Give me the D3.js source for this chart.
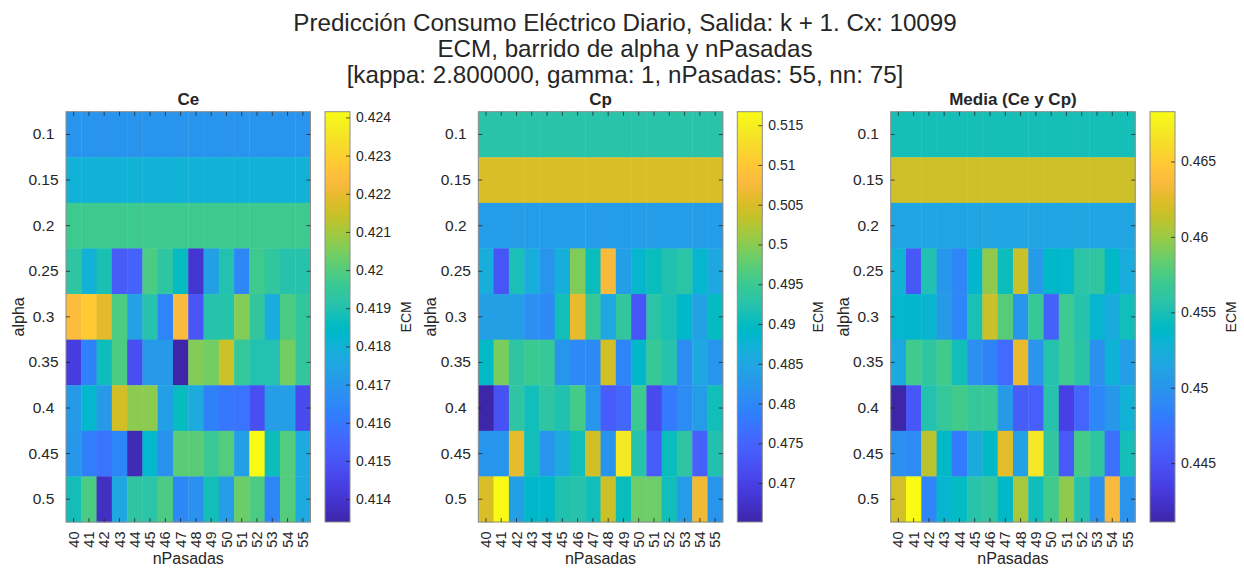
<!DOCTYPE html>
<html>
<head>
<meta charset="utf-8">
<script src="https://cdn.jsdelivr.net/npm/d3@7"></script>
<style>
  body { margin: 0; background: #fff; }
  text { font-family: "Liberation Sans", Arial, Helvetica, sans-serif; fill: #262626; }
</style>
</head>
<body>
<svg id="chart" width="1244" height="570"></svg>
<script>
// Sweep axes
const nPasadas = [40, 41, 42, 43, 44, 45, 46, 47, 48, 49, 50, 51, 52, 53, 54, 55];
const alphaLabels = ["0.1", "0.15", "0.2", "0.25", "0.3", "0.35", "0.4", "0.45", "0.5"];

// ECM per alpha (rows) and nPasadas (columns)
const ecmCe = [
  [0.4169, 0.4169, 0.4169, 0.4169, 0.4169, 0.4169, 0.4169, 0.4169, 0.4169, 0.4169, 0.4169, 0.4169, 0.4169, 0.4169, 0.4169, 0.4169],
  [0.4180, 0.4180, 0.4180, 0.4180, 0.4180, 0.4180, 0.4180, 0.4180, 0.4180, 0.4180, 0.4180, 0.4180, 0.4180, 0.4180, 0.4180, 0.4180],
  [0.4197, 0.4197, 0.4197, 0.4197, 0.4197, 0.4197, 0.4197, 0.4197, 0.4197, 0.4197, 0.4197, 0.4197, 0.4197, 0.4197, 0.4197, 0.4197],
  [0.4193, 0.4180, 0.4189, 0.4152, 0.4154, 0.4199, 0.4193, 0.4186, 0.4140, 0.4173, 0.4190, 0.4165, 0.4197, 0.4194, 0.4191, 0.4191],
  [0.4224, 0.4228, 0.4219, 0.4199, 0.4174, 0.4191, 0.4164, 0.4223, 0.4150, 0.4191, 0.4191, 0.4206, 0.4194, 0.4178, 0.4199, 0.4194],
  [0.4143, 0.4163, 0.4187, 0.4199, 0.4148, 0.4171, 0.4171, 0.4134, 0.4206, 0.4204, 0.4215, 0.4195, 0.4190, 0.4190, 0.4204, 0.4194],
  [0.4171, 0.4183, 0.4171, 0.4216, 0.4207, 0.4207, 0.4173, 0.4186, 0.4177, 0.4163, 0.4160, 0.4159, 0.4148, 0.4172, 0.4172, 0.4147],
  [0.4170, 0.4162, 0.4159, 0.4164, 0.4136, 0.4183, 0.4168, 0.4201, 0.4201, 0.4196, 0.4200, 0.4173, 0.42415, 0.4187, 0.4200, 0.4177],
  [0.4188, 0.4199, 0.4138, 0.4176, 0.4193, 0.4192, 0.4199, 0.4165, 0.4168, 0.4188, 0.4172, 0.4203, 0.4199, 0.4164, 0.4200, 0.4177]
];

const ecmCp = [
  [0.4927, 0.4927, 0.4927, 0.4927, 0.4927, 0.4927, 0.4927, 0.4927, 0.4927, 0.4927, 0.4927, 0.4927, 0.4927, 0.4927, 0.4927, 0.4927],
  [0.5050, 0.5050, 0.5050, 0.5050, 0.5050, 0.5050, 0.5050, 0.5050, 0.5050, 0.5050, 0.5050, 0.5050, 0.5050, 0.5050, 0.5050, 0.5050],
  [0.4832, 0.4832, 0.4832, 0.4832, 0.4832, 0.4832, 0.4832, 0.4832, 0.4832, 0.4832, 0.4832, 0.4832, 0.4832, 0.4832, 0.4832, 0.4832],
  [0.4863, 0.4728, 0.4914, 0.4863, 0.4821, 0.4868, 0.4995, 0.4904, 0.5077, 0.4837, 0.4883, 0.4904, 0.4919, 0.4930, 0.4883, 0.4852],
  [0.4837, 0.4837, 0.4837, 0.4811, 0.4801, 0.4909, 0.5061, 0.4945, 0.4852, 0.4940, 0.4728, 0.4930, 0.4914, 0.4888, 0.4842, 0.4899],
  [0.4894, 0.4991, 0.4935, 0.4950, 0.4945, 0.4821, 0.4801, 0.4801, 0.5044, 0.4795, 0.4888, 0.4945, 0.4924, 0.4806, 0.4852, 0.4821],
  [0.4651, 0.4723, 0.4935, 0.4909, 0.4935, 0.4919, 0.4958, 0.4821, 0.4739, 0.4754, 0.4950, 0.4713, 0.4780, 0.4806, 0.4832, 0.4909],
  [0.4821, 0.4821, 0.5061, 0.4909, 0.4821, 0.4857, 0.4909, 0.5044, 0.4821, 0.5142, 0.4924, 0.4739, 0.4904, 0.4935, 0.4744, 0.4919],
  [0.5050, 0.5167, 0.4837, 0.4888, 0.4888, 0.4919, 0.4924, 0.4909, 0.5039, 0.4904, 0.4984, 0.4984, 0.4909, 0.4832, 0.5069, 0.4821]
];

const ecmMedia = [
  [0.4548, 0.4548, 0.4548, 0.4548, 0.4548, 0.4548, 0.4548, 0.4548, 0.4548, 0.4548, 0.4548, 0.4548, 0.4548, 0.4548, 0.4548, 0.4548],
  [0.4617, 0.4617, 0.4617, 0.4617, 0.4617, 0.4617, 0.4617, 0.4617, 0.4617, 0.4617, 0.4617, 0.4617, 0.4617, 0.4617, 0.4617, 0.4617],
  [0.4515, 0.4515, 0.4515, 0.4515, 0.4515, 0.4515, 0.4515, 0.4515, 0.4515, 0.4515, 0.4515, 0.4515, 0.4515, 0.4515, 0.4515, 0.4515],
  [0.4528, 0.4454, 0.4552, 0.4502, 0.4488, 0.4534, 0.4597, 0.4545, 0.4615, 0.4505, 0.4537, 0.4535, 0.4558, 0.4562, 0.4537, 0.4522],
  [0.4533, 0.4534, 0.4531, 0.4506, 0.4488, 0.4550, 0.4615, 0.4579, 0.4501, 0.4566, 0.4460, 0.4569, 0.4554, 0.4533, 0.4521, 0.4547],
  [0.4519, 0.4571, 0.4561, 0.4572, 0.4547, 0.4496, 0.4486, 0.4468, 0.4627, 0.4500, 0.4554, 0.4570, 0.4557, 0.4498, 0.4529, 0.4508],
  [0.4411, 0.4453, 0.4553, 0.4565, 0.4572, 0.4565, 0.4567, 0.4504, 0.4458, 0.4459, 0.4555, 0.4436, 0.4464, 0.4489, 0.4502, 0.4528],
  [0.4496, 0.4492, 0.4610, 0.4537, 0.4479, 0.4520, 0.4539, 0.4625, 0.4512, 0.4668, 0.4563, 0.4456, 0.4573, 0.4561, 0.4473, 0.4548],
  [0.4619, 0.4683, 0.4488, 0.4532, 0.4541, 0.4556, 0.4562, 0.4537, 0.4604, 0.4546, 0.4571, 0.4597, 0.4555, 0.4498, 0.4635, 0.4499]
];

// Colorbar tick values
const ceTicks = [0.414, 0.415, 0.416, 0.417, 0.418, 0.419, 0.420, 0.421, 0.422, 0.423, 0.424];
const cpTicks = [0.470, 0.475, 0.480, 0.485, 0.490, 0.495, 0.500, 0.505, 0.510, 0.515];
const mediaTicks = [0.445, 0.450, 0.455, 0.460, 0.465];

const titleLines = [
  "Predicción Consumo Eléctrico Diario, Salida: k + 1. Cx: 10099",
  "ECM, barrido de alpha y nPasadas",
  "[kappa: 2.800000, gamma: 1, nPasadas: 55, nn: 75]"
];

// Parula colormap, 64 entries (r, g, b in 0..1)
const parulaRGB = [
  [0.2422, 0.1504, 0.6603], [0.2504, 0.1650, 0.7076], [0.2578, 0.1818, 0.7511], [0.2647, 0.1978, 0.7952],
  [0.2706, 0.2147, 0.8364], [0.2751, 0.2342, 0.8710], [0.2783, 0.2559, 0.8991], [0.2803, 0.2782, 0.9221],
  [0.2813, 0.3006, 0.9414], [0.2810, 0.3228, 0.9579], [0.2795, 0.3447, 0.9717], [0.2760, 0.3667, 0.9829],
  [0.2699, 0.3892, 0.9906], [0.2602, 0.4123, 0.9952], [0.2440, 0.4358, 0.9988], [0.2206, 0.4603, 0.9973],
  [0.1963, 0.4847, 0.9892], [0.1834, 0.5074, 0.9798], [0.1786, 0.5289, 0.9682], [0.1764, 0.5499, 0.9520],
  [0.1687, 0.5703, 0.9359], [0.1540, 0.5902, 0.9218], [0.1460, 0.6091, 0.9079], [0.1380, 0.6276, 0.8973],
  [0.1248, 0.6459, 0.8883], [0.1113, 0.6635, 0.8763], [0.0952, 0.6798, 0.8598], [0.0689, 0.6948, 0.8394],
  [0.0297, 0.7082, 0.8163], [0.0036, 0.7203, 0.7917], [0.0067, 0.7312, 0.7660], [0.0433, 0.7411, 0.7394],
  [0.0964, 0.7500, 0.7120], [0.1408, 0.7584, 0.6842], [0.1717, 0.7670, 0.6554], [0.1938, 0.7758, 0.6251],
  [0.2161, 0.7843, 0.5923], [0.2470, 0.7918, 0.5567], [0.2906, 0.7973, 0.5188], [0.3406, 0.8008, 0.4789],
  [0.3909, 0.8029, 0.4354], [0.4456, 0.8024, 0.3909], [0.5044, 0.7993, 0.3480], [0.5616, 0.7942, 0.3045],
  [0.6174, 0.7876, 0.2612], [0.6720, 0.7793, 0.2227], [0.7242, 0.7698, 0.1910], [0.7738, 0.7598, 0.1646],
  [0.8203, 0.7498, 0.1535], [0.8634, 0.7406, 0.1596], [0.9035, 0.7330, 0.1774], [0.9393, 0.7288, 0.2100],
  [0.9728, 0.7298, 0.2394], [0.9956, 0.7434, 0.2371], [0.9970, 0.7659, 0.2199], [0.9952, 0.7893, 0.2028],
  [0.9892, 0.8136, 0.1885], [0.9786, 0.8386, 0.1766], [0.9676, 0.8639, 0.1643], [0.9610, 0.8890, 0.1537],
  [0.9597, 0.9135, 0.1423], [0.9628, 0.9373, 0.1265], [0.9691, 0.9606, 0.1064], [0.9769, 0.9839, 0.0805]
];
const parula = d3.piecewise(d3.interpolateRgb,
  parulaRGB.map(c => d3.rgb(c[0] * 255, c[1] * 255, c[2] * 255)));

const svg = d3.select("#chart");
const ink = "#262626";
const boxGray = "#8c8c8c";

// Figure title
svg.append("g").selectAll("text")
  .data(titleLines)
  .join("text")
  .attr("x", 625)
  .attr("y", (d, i) => 31 + i * 26)
  .attr("text-anchor", "middle")
  .style("font-size", "24.2px")
  .text(d => d);

const panels = [
  { title: "Ce", values: ecmCe, ticks: ceTicks, x0: 66, cbx: 325 },
  { title: "Cp", values: ecmCp, ticks: cpTicks, x0: 478.3, cbx: 737.3 },
  { title: "Media (Ce y Cp)", values: ecmMedia, ticks: mediaTicks, x0: 890.7, cbx: 1150 }
];
const plotTop = 111.7, plotH = 410.3, plotW = 244.5, cbW = 25;

panels.forEach((p, pi) => {
  const g = svg.append("g");
  const x = d3.scaleBand().domain(nPasadas).range([p.x0, p.x0 + plotW]);
  const y = d3.scaleBand().domain(alphaLabels).range([plotTop, plotTop + plotH]);
  const cells = [];
  p.values.forEach((row, i) => row.forEach((v, j) => cells.push({ a: alphaLabels[i], n: nPasadas[j], v })));
  const ext = d3.extent(cells, d => d.v);
  const color = d3.scaleSequential(parula).domain(ext);

  g.append("g").selectAll("rect")
    .data(cells)
    .join("rect")
    .attr("x", d => x(d.n))
    .attr("y", d => y(d.a))
    .attr("width", x.bandwidth() + 0.4)
    .attr("height", y.bandwidth() + 0.4)
    .attr("fill", d => color(d.v));

  // axis box
  g.append("rect")
    .attr("x", p.x0).attr("y", plotTop).attr("width", plotW).attr("height", plotH)
    .attr("fill", "none").attr("stroke", boxGray).attr("stroke-width", 1);

  const styleAxis = sel => {
    sel.select(".domain").remove();
    sel.selectAll(".tick line").attr("stroke", ink).attr("stroke-width", 0.8);
  };

  // y axis (left, with labels) and right ticks
  g.append("g")
    .attr("transform", `translate(${p.x0},0)`)
    .call(d3.axisLeft(y).tickSize(-4))
    .call(styleAxis)
    .call(s => s.selectAll("text")
      .style("font-size", "15.5px")
      .attr("fill", ink)
      .attr("text-anchor", "middle")
      .attr("x", -22.5));
  g.append("g")
    .attr("transform", `translate(${p.x0 + plotW},0)`)
    .call(d3.axisRight(y).tickSize(-4).tickFormat(""))
    .call(styleAxis);

  // x axis (bottom, rotated labels) and top ticks
  g.append("g")
    .attr("transform", `translate(0,${plotTop + plotH})`)
    .call(d3.axisBottom(x).tickSize(-4))
    .call(styleAxis)
    .call(s => s.selectAll("text")
      .style("font-size", "14.5px")
      .attr("fill", ink)
      .attr("transform", "rotate(-90)")
      .attr("text-anchor", "end")
      .attr("x", -9.5)
      .attr("y", 0)
      .attr("dy", "0.35em"));
  g.append("g")
    .attr("transform", `translate(0,${plotTop})`)
    .call(d3.axisTop(x).tickSize(-4).tickFormat(""))
    .call(styleAxis);

  // subplot title and axis labels
  g.append("text")
    .attr("x", p.x0 + plotW / 2).attr("y", plotTop - 7)
    .attr("text-anchor", "middle")
    .style("font-size", "17px").style("font-weight", "bold")
    .text(p.title);
  g.append("text")
    .attr("x", p.x0 + plotW / 2).attr("y", 564)
    .attr("text-anchor", "middle")
    .style("font-size", "16px")
    .text("nPasadas");
  g.append("text")
    .attr("transform", `translate(${p.x0 - 42},${plotTop + plotH / 2}) rotate(-90)`)
    .attr("text-anchor", "middle")
    .style("font-size", "16px")
    .text("alpha");

  // colorbar
  const gradId = `cbar-grad-${pi}`;
  const grad = svg.append("defs").append("linearGradient")
    .attr("id", gradId).attr("x1", 0).attr("y1", 1).attr("x2", 0).attr("y2", 0);
  grad.selectAll("stop")
    .data(d3.range(0, 1.0001, 1 / 126))
    .join("stop")
    .attr("offset", d => d)
    .attr("stop-color", d => parula(d));
  g.append("rect")
    .attr("x", p.cbx).attr("y", plotTop).attr("width", cbW).attr("height", plotH)
    .attr("fill", `url(#${gradId})`)
    .attr("stroke", boxGray).attr("stroke-width", 1);
  const cScale = d3.scaleLinear().domain(ext).range([plotTop + plotH, plotTop]);
  g.append("g")
    .attr("transform", `translate(${p.cbx + cbW},0)`)
    .call(d3.axisRight(cScale).tickValues(p.ticks).tickSize(-4).tickPadding(6).tickFormat(d3.format("~f")))
    .call(styleAxis)
    .call(s => s.selectAll("text").style("font-size", "14px").attr("fill", ink));
  g.append("text")
    .attr("transform", `translate(${p.cbx + 86},${plotTop + plotH / 2}) rotate(-90)`)
    .attr("text-anchor", "middle")
    .style("font-size", "14px")
    .text("ECM");
});
</script>
</body>
</html>
